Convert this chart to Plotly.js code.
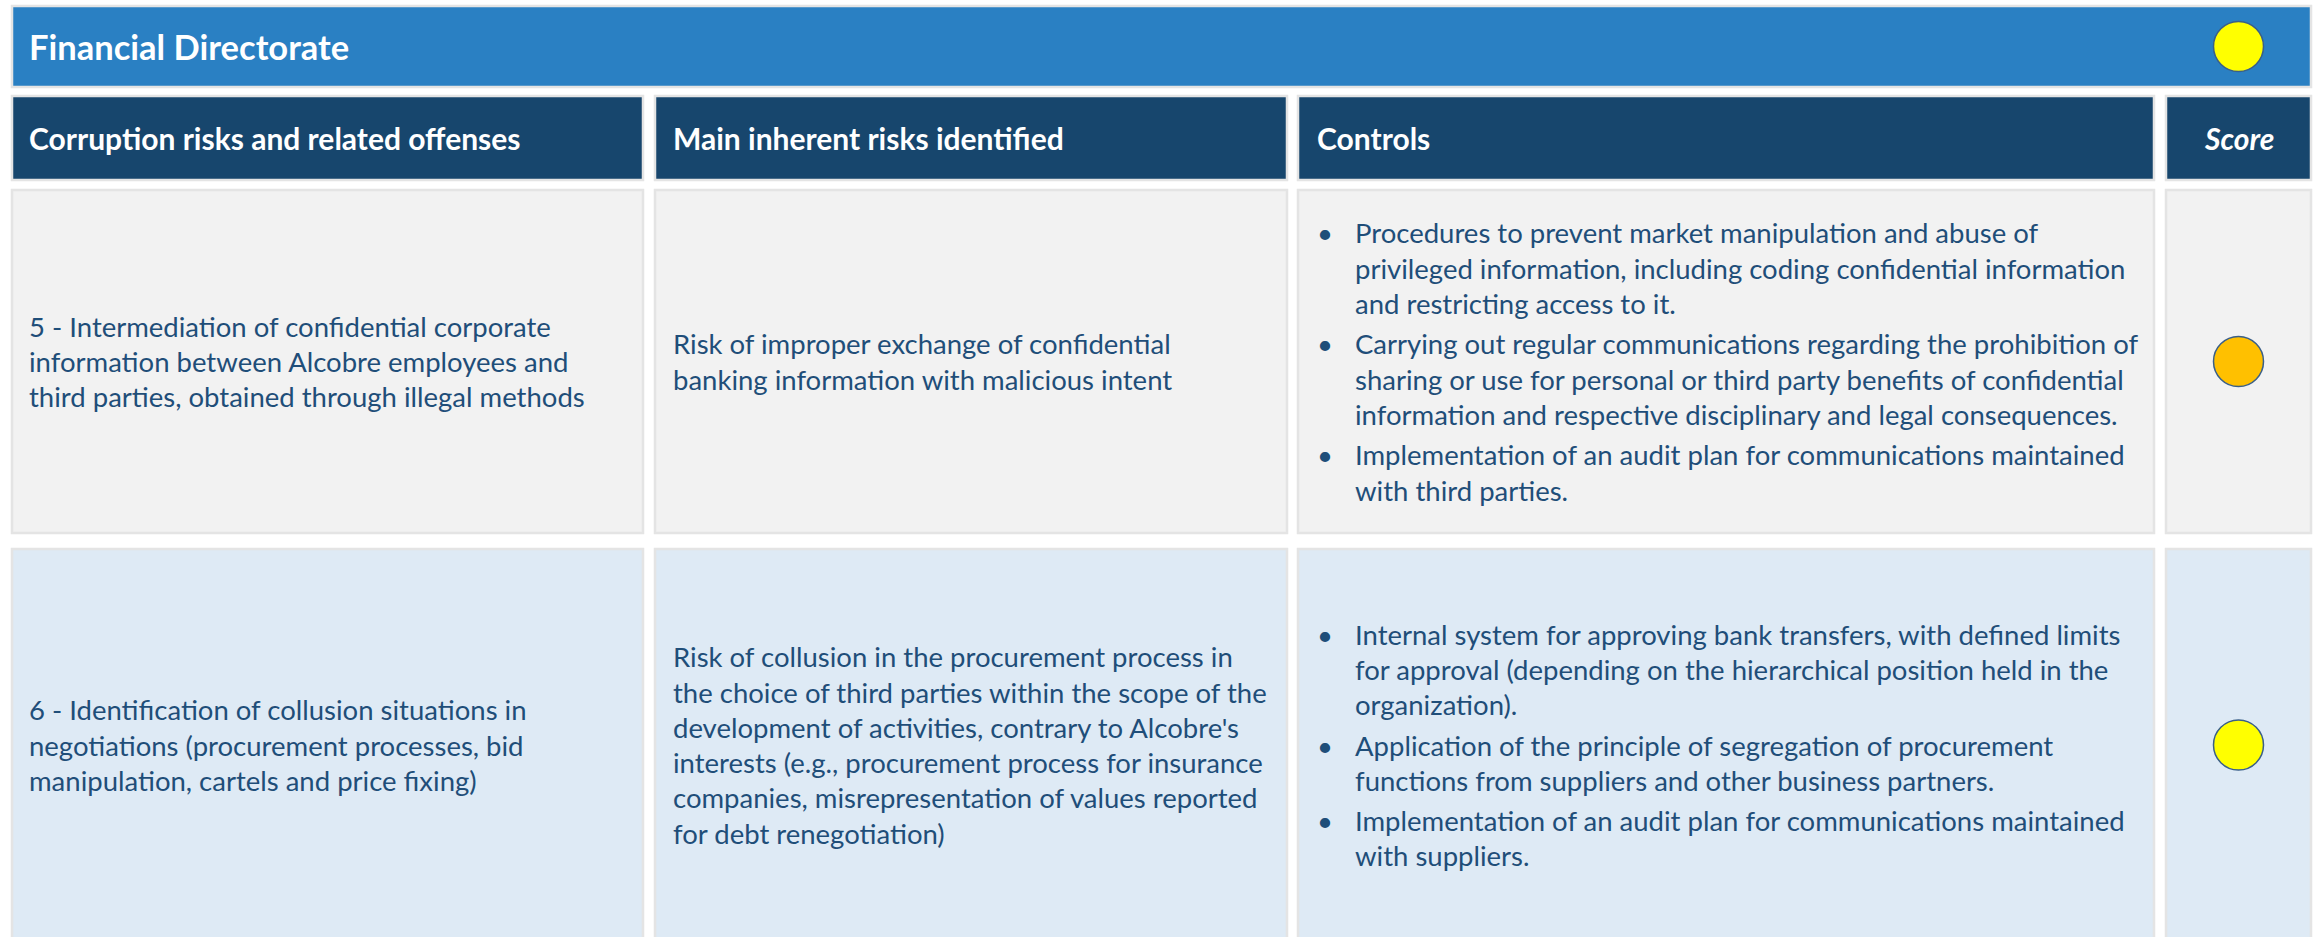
<!DOCTYPE html>
<html><head><meta charset="utf-8">
<script src="https://cdn.plot.ly/plotly-3.0.1.min.js"></script>
<style>html,body{margin:0;padding:0;background:#fff;overflow:hidden}#chart{width:2313px;height:937px}</style>
</head><body><div id="chart"></div>
<script>
// ---------------- data ----------------
const sectionTitle = "Financial Directorate";
const sectionScore = "yellow";
const columnHeaders = ["Corruption risks and related offenses", "Main inherent risks identified", "Controls", "Score"];
const riskLines = [
  ["5 - Intermediation of confidential corporate", "information between Alcobre employees and", "third parties, obtained through illegal methods"],
  ["6 - Identification of collusion situations in", "negotiations (procurement processes, bid", "manipulation, cartels and price fixing)"]
];
const inherentRiskLines = [
  ["Risk of improper exchange of confidential", "banking information with malicious intent"],
  ["Risk of collusion in the procurement process in", "the choice of third parties within the scope of the", "development of activities, contrary to Alcobre's", "interests (e.g., procurement process for insurance", "companies, misrepresentation of values reported", "for debt renegotiation)"]
];
const controlBullets = [
  [
    ["Procedures to prevent market manipulation and abuse of", "privileged information, including coding confidential information", "and restricting access to it."],
    ["Carrying out regular communications regarding the prohibition of", "sharing or use for personal or third party benefits of confidential", "information and respective disciplinary and legal consequences."],
    ["Implementation of an audit plan for communications maintained", "with third parties."]
  ],
  [
    ["Internal system for approving bank transfers, with defined limits", "for approval (depending on the hierarchical position held in the", "organization)."],
    ["Application of the principle of segregation of procurement", "functions from suppliers and other business partners."],
    ["Implementation of an audit plan for communications maintained", "with suppliers."]
  ]
];
const rowScores = ["orange", "yellow"];

// ---------------- styles / geometry ----------------
const W = 2313, H = 937;
const scoreColors = {yellow: "#ffff00", orange: "#ffc000"};
const FONT = 'Lato, "Open Sans", sans-serif';
const TEXT_COLOR = "#1f4e79";
const BODY_SIZE = 27.5;
const HEAD_SIZE = 30;
const TITLE_SIZE = 34.5;
const LINE_H = 35.3;
const PARA_GAP = 5;
const colEdges = [[12, 643], [655, 1287], [1298, 2154], [2166, 2311]];
const titleBand = [6, 87];
const headerBand = [96, 180];
const rowBands = [[190, 533], [549, 941]];
const rowFills = ["#f2f2f2", "#deeaf5"];
const BORDER = "#e4e4e4";
const textInset = [15, 16, 55, 0];
const headInset = [15, 16, 17, 0];
const bulletInset = 17;

const shapes = [];
const annotations = [];
function cell(x0, x1, y0, y1, fill) {
  shapes.push({type: "rect", xref: "x", yref: "y", x0, x1, y0, y1, fillcolor: fill,
    line: {color: BORDER, width: 2.5}, layer: "below"});
}
function label(x, y, text, opts) {
  annotations.push(Object.assign({x, y, xref: "x", yref: "y", text, showarrow: false,
    xanchor: "left", yanchor: "middle", align: "left",
    font: {family: FONT, size: BODY_SIZE, color: TEXT_COLOR}}, opts || {}));
}
const mid = b => (b[0] + b[1]) / 2;

// title bar
cell(colEdges[0][0], colEdges[3][1], titleBand[0], titleBand[1], "#2a80c3");
label(colEdges[0][0] + headInset[0], mid(titleBand), "<b>" + sectionTitle + "</b>",
  {font: {family: FONT, size: TITLE_SIZE, color: "#ffffff"}});

// header row
columnHeaders.forEach((h, i) => {
  cell(colEdges[i][0], colEdges[i][1], headerBand[0], headerBand[1], "#17466d");
  const isScore = i === 3;
  label(isScore ? mid(colEdges[i]) : colEdges[i][0] + headInset[i], mid(headerBand),
    isScore ? "<b><i>" + h + "</i></b>" : "<b>" + h + "</b>",
    {xanchor: isScore ? "center" : "left", font: {family: FONT, size: HEAD_SIZE, color: "#ffffff"}});
});

// body rows
function block(lines, yc, gaps) {
  const total = lines.length * LINE_H + gaps.reduce((a, b) => a + b, 0);
  let y = yc - total / 2 + LINE_H / 2;
  return lines.map((t, k) => { const yy = y; y += LINE_H + (gaps[k] || 0); return yy; });
}
rowBands.forEach((band, r) => {
  colEdges.forEach(e => cell(e[0], e[1], band[0], band[1], rowFills[r]));
  const yc = mid(band);
  const ys1 = block(riskLines[r], yc, []);
  riskLines[r].forEach((t, k) => label(colEdges[0][0] + textInset[0], ys1[k], t));
  const ys2 = block(inherentRiskLines[r], yc, []);
  inherentRiskLines[r].forEach((t, k) => label(colEdges[1][0] + textInset[1], ys2[k], t));
  const flat = [], gaps = [], firsts = [];
  controlBullets[r].forEach((b, bi) => {
    b.forEach((t, k) => {
      if (k === 0) firsts.push(flat.length);
      flat.push(t);
      gaps.push(k === b.length - 1 && bi < controlBullets[r].length - 1 ? PARA_GAP : 0);
    });
  });
  const ys3 = block(flat, yc, gaps);
  flat.forEach((t, k) => label(colEdges[2][0] + textInset[2], ys3[k], t));
  firsts.forEach(k => label(colEdges[2][0] + bulletInset, ys3[k], "•"));
});

// score circles
const scoreTrace = {
  type: "scatter", mode: "markers", hoverinfo: "skip",
  x: [mid(colEdges[3])].concat(rowScores.map(() => mid(colEdges[3]))),
  y: [mid(titleBand)].concat(rowBands.map(mid)),
  marker: {size: 50, color: [sectionScore].concat(rowScores).map(s => scoreColors[s]),
    line: {color: "#3a5f88", width: 1.5}},
  cliponaxis: false
};

Plotly.newPlot("chart", [scoreTrace], {
  width: W, height: H, margin: {l: 0, r: 0, t: 0, b: 0},
  paper_bgcolor: "#ffffff", plot_bgcolor: "#ffffff", showlegend: false,
  xaxis: {range: [0, W], visible: false, fixedrange: true},
  yaxis: {range: [H, 0], visible: false, fixedrange: true},
  shapes, annotations
}, {staticPlot: true, displayModeBar: false});
</script></body></html>
